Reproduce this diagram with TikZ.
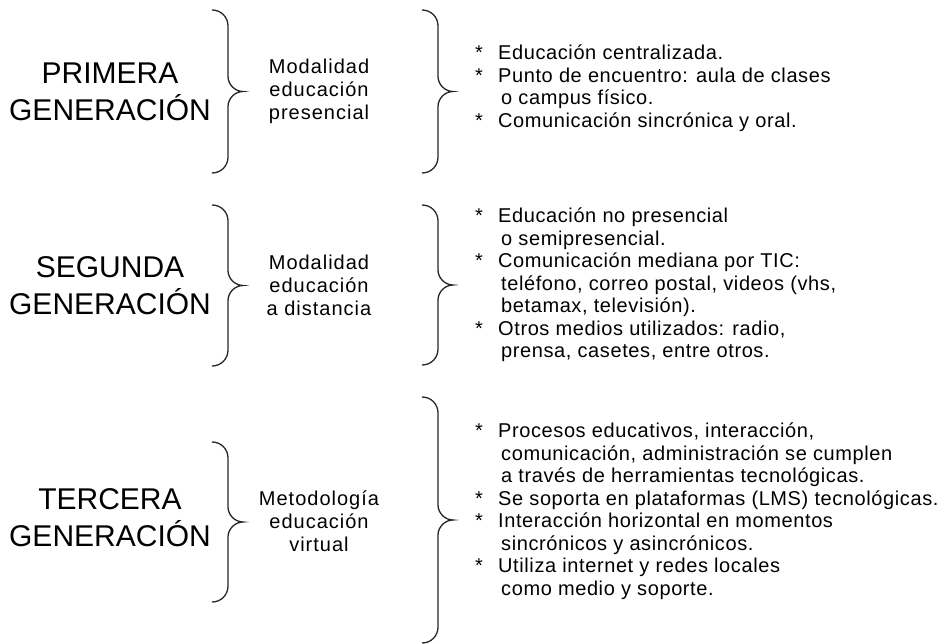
\documentclass[tikz,border=0pt]{standalone}
\usepackage{fontspec}
\setmainfont{Liberation Sans}
\newfontfamily\espaciada[LetterSpace=3]{Liberation Sans}
\newfontfamily\media[LetterSpace=5]{Liberation Sans}

% llave: x izquierda, y arriba, y abajo
\newcommand{\llave}[3]{%
  \pgfmathsetmacro{\ym}{(#2+#3)/2}
  \draw[trazo] (#1,#2) .. controls ({#1+9},#2) and ({#1+16},{#2+7}) .. ({#1+16},{#2+16})
    -- ({#1+16},{\ym-15}) .. controls ({#1+16},{\ym-7}) and ({#1+23},\ym) .. ({#1+31},\ym)
    .. controls ({#1+23},\ym) and ({#1+16},{\ym+7}) .. ({#1+16},{\ym+15})
    -- ({#1+16},{#3-16}) .. controls ({#1+16},{#3-7}) and ({#1+9},#3) .. (#1,#3);}
\newcommand{\vineta}{\makebox[23pt][l]{*}}
\newcommand{\sigue}{\hspace*{26pt}}

\begin{document}
\begin{tikzpicture}[x=1pt, y=-1pt,
  trazo/.style={line width=1.3pt, color=black!85},
  generacion/.style={align=center, font=\fontsize{30}{37}\selectfont, inner sep=0pt},
  modalidad/.style={align=center, font=\media\fontsize{20}{23}\selectfont, inner sep=0pt},
  lista/.style={align=left, anchor=west, font=\espaciada\fontsize{20}{22.5}\selectfont, inner sep=0pt}]
		\useasboundingbox (0,0) rectangle (945,644);

		% Primera generacion
		\node[generacion] (gen1) at (110, 92) {PRIMERA\\GENERACIÓN};
		\llave{212}{10}{173}
		\node[modalidad] (mod1) at (319, 91) {Modalidad\\educación\\presencial};
		\llave{422}{10}{173}
		\node[lista] (lst1) at (475, 88) {\vineta Educación centralizada.\\
			\vineta Punto de encuentro: aula de clases\\
			\sigue o campus físico.\\
			\vineta Comunicación sincrónica y oral.};

		% Segunda generacion
		\node[generacion] (gen2) at (110, 286) {SEGUNDA\\GENERACIÓN};
		\llave{212}{205}{366}
		\node[modalidad] (mod2) at (319, 285) {Modalidad\\educación\\a distancia};
		\llave{422}{205}{365}
		\node[lista] (lst2) at (475, 285) {\vineta Educación no presencial\\
			\sigue o semipresencial.\\
			\vineta Comunicación mediana por TIC:\\
			\sigue teléfono, correo postal, videos (vhs,\\
			\sigue betamax, televisión).\\
			\vineta Otros medios utilizados: radio,\\
			\sigue prensa, casetes, entre otros.};

		% Tercera generacion
		\node[generacion] (gen3) at (110, 518) {TERCERA\\GENERACIÓN};
		\llave{212}{442}{602}
		\node[modalidad] (mod3) at (319, 521) {Metodología\\educación\\virtual};
		\llave{422}{397}{643}
		\node[lista] (lst3) at (475, 511) {\vineta Procesos educativos, interacción,\\
			\sigue comunicación, administración se cumplen\\
			\sigue a través de herramientas tecnológicas.\\
			\vineta Se soporta en plataformas (LMS) tecnológicas.\\
			\vineta Interacción horizontal en momentos\\
			\sigue sincrónicos y asincrónicos.\\
			\vineta Utiliza internet y redes locales\\
			\sigue como medio y soporte.};
	\end{tikzpicture}
\end{document}
